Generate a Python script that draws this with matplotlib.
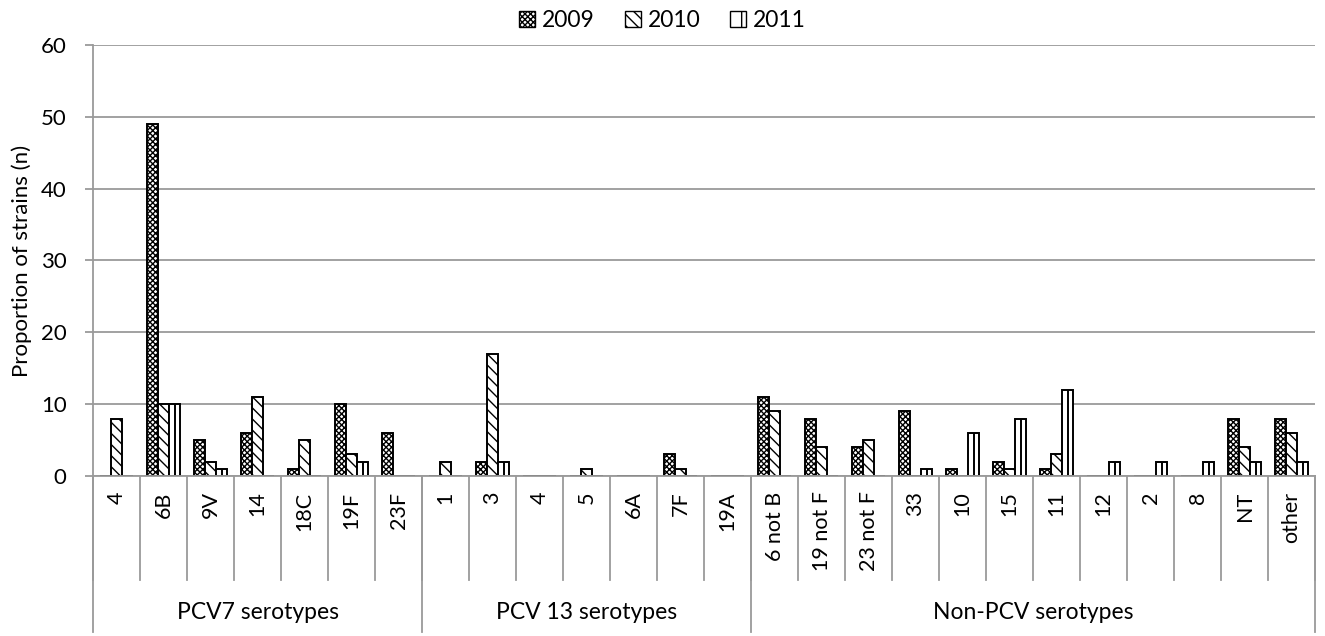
import numpy as np
import matplotlib.pyplot as plt
from matplotlib.patches import Patch

plt.rcParams['font.family'] = ['Lato', 'DejaVu Sans']
plt.rcParams['hatch.linewidth'] = 1.0

groups = ["PCV7 serotypes", "PCV 13 serotypes", "Non-PCV serotypes"]
group_sizes = [7, 7, 12]
categories = ["4", "6B", "9V", "14", "18C", "19F", "23F",
              "1", "3", "4", "5", "6A", "7F", "19A",
              "6 not B", "19 not F", "23 not F", "33", "10", "15", "11",
              "12", "2", "8", "NT", "other"]
years = ["2009", "2010", "2011"]
v2009 = [0, 49, 5, 6, 1, 10, 6,
         0, 2, 0, 0, 0, 3, 0,
         11, 8, 4, 9, 1, 2, 1, 0, 0, 0, 8, 8]
v2010 = [8, 10, 2, 11, 5, 3, 0,
         2, 17, 0, 1, 0, 1, 0,
         9, 4, 5, 0, 0, 1, 3, 0, 0, 0, 4, 6]
v2011 = [0, 10, 1, 0, 0, 2, 0,
         0, 2, 0, 0, 0, 0, 0,
         0, 0, 0, 1, 6, 8, 12, 2, 2, 2, 2, 2]

hatches = ['xxxxxx', '\\\\\\', '']
fig = plt.figure(figsize=(13.25, 6.36), dpi=100)
ax = fig.add_axes([0.0702, 0.2516, 0.9223, 0.6777])

x = np.arange(len(categories))
w = 0.235
for i, (vals, h) in enumerate(zip([v2009, v2010, v2011], hatches)):
    pos = x + (i - 1) * w
    ax.bar(pos, vals, w, color='white', edgecolor='black', hatch=h,
           linewidth=1.4, zorder=3, label=years[i])
    if i == 2:
        # vertical stripe in the middle of the 2011 bars
        vv = np.array(vals, dtype=float)
        m = vv > 0
        ax.vlines(pos[m], 0, vv[m], color='black', linewidth=1.4, zorder=4)

ax.set_xlim(-0.5, len(categories) - 0.5)
ax.set_ylim(0, 60)
ax.set_yticks(range(0, 61, 10))
ax.yaxis.grid(True, color='#9a9a9a', linewidth=1.3, zorder=0)
for s in ['top', 'right', 'bottom']:
    ax.spines[s].set_visible(False)
ax.spines['left'].set_color('#9a9a9a')
ax.spines['left'].set_linewidth(1.3)
ax.tick_params(axis='y', length=6, color='#9a9a9a', width=1.3, labelsize=16, pad=13)
ax.set_xticks([])
ax.set_ylabel("Proportion of strains (n)", fontsize=16, labelpad=6)

tr = ax.get_xaxis_transform()
ax.plot([-0.5, len(categories) - 0.5], [0, 0], color='#9a9a9a', lw=1.3,
        transform=tr, clip_on=False, zorder=5)
for xi, lab in zip(x, categories):
    ax.text(xi, -0.036, lab, rotation=90, ha='center', va='top',
            fontsize=15.5, transform=tr)
bounds = np.cumsum([0] + group_sizes) - 0.5
for b in np.arange(-0.5, len(categories), 1.0):
    ax.plot([b, b], [0, -0.241], color='#9a9a9a', lw=1.3,
            transform=tr, clip_on=False)
for b in bounds:
    ax.plot([b, b], [0, -0.362], color='#9a9a9a', lw=1.3,
            transform=tr, clip_on=False)
for g, a, bb in zip(groups, bounds[:-1], bounds[1:]):
    ax.text((a + bb) / 2, -0.316, g, ha='center', va='center',
            fontsize=16.5, transform=tr)

handles = [Patch(facecolor='white', edgecolor='black', hatch=h, label=y)
           for h, y in zip(hatches[:2] + ['|'], years)]
fig.legend(handles=handles, loc='center', bbox_to_anchor=(0.5, 0.968),
           ncol=3, frameon=False, fontsize=16.5, handlelength=0.7,
           handleheight=0.7, handletextpad=0.3, columnspacing=1.3)

fig.savefig("out.png", dpi=100)
